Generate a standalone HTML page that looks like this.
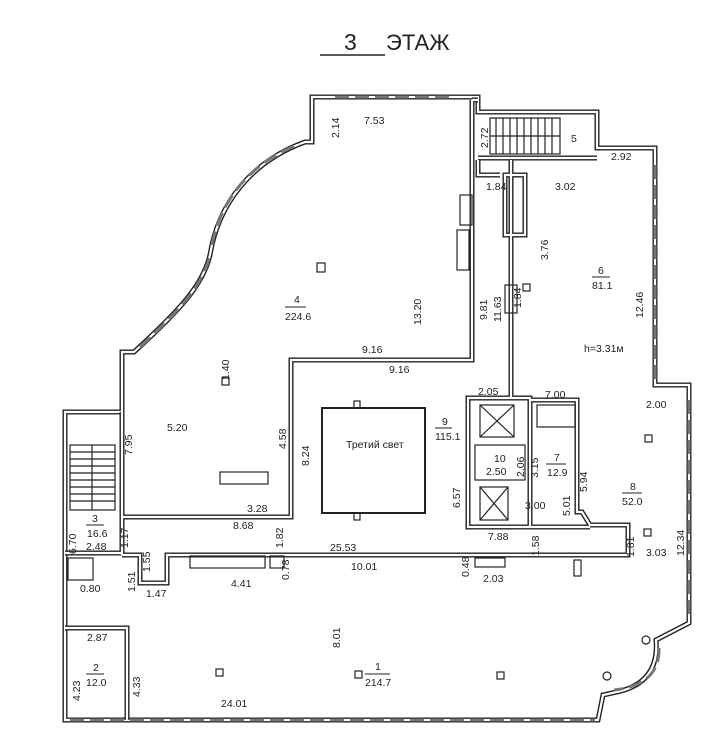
<!DOCTYPE html>
<html><head><meta charset="utf-8"><style>
body{margin:0;background:#fff;}
svg{display:block;}
text{font-family:"Liberation Sans",sans-serif;font-size:10.5px;fill:#222;}
.w{fill:none;stroke:#222;stroke-width:5;stroke-linejoin:miter;}
.wi{fill:none;stroke:#fff;stroke-width:2.2;stroke-linejoin:miter;}
.t{fill:none;stroke:#222;stroke-width:1.2;}
.win{fill:none;stroke:#777;stroke-width:3;stroke-dasharray:14 6;}
</style></head><body>
<svg width="718" height="743" viewBox="0 0 718 743" xmlns="http://www.w3.org/2000/svg">
<text x="344" y="50" style="font-size:23px">3</text>
<line x1="320" y1="55" x2="385" y2="55" stroke="#222" stroke-width="1.5"/>
<text x="386" y="50" style="font-size:22px">ЭТАЖ</text>

<defs>
<path id="outer" d="M312,97 L478,97 L478,112 L597,112 L597,148 L655,148 L655,385 L689,385 L689,623 L656,640 Q660,685 612,693 L603,695 L598,720 L65,720 L65,412 L122,412 L122,352 L134,352 C180,310 203,285 210,255 C218,205 250,162 305,142 L312,142 Z"/>
<path id="inner" d="M472,100 L472,360 L291,360 L291,517 L122,517 M122,412 L122,555 M65,553 L122,553 M122,555 L140,555 L140,583 L167,583 L167,555 L628,555 L628,525 L590,525 L582,512 L577,512 L577,400 L530,400 M468,398 L530,398 L530,527 L468,527 Z M468,527 L468,517 M530,527 L590,527 M65,628 L127,628 L127,720 M478,158 L597,158 M511,160 L511,398 M478,160 L478,175 L500,175 M525,175 L525,235 L505,235 L505,175 Z M472,100 L478,100"/>
</defs>
<use href="#outer" class="w"/><use href="#outer" class="wi"/>
<use href="#inner" class="w"/><use href="#inner" class="wi"/>

<path class="win" d="M335,97 L455,97 M655,165 L655,380 M689,400 L689,620 M70,720 L595,720 M140,347 C180,310 203,285 210,255 M212,245 C220,200 252,161 300,144 M659,648 Q660,685 614,690"/>

<g class="t">
<rect x="490" y="118" width="70" height="36"/>
<line x1="490" y1="136" x2="560" y2="136"/>
<path d="M496,118 v36 M503,118 v36 M510,118 v36 M517,118 v36 M524,118 v36 M531,118 v36 M538,118 v36 M545,118 v36 M552,118 v36"/>
<rect x="70" y="445" width="45" height="65"/>
<line x1="92" y1="445" x2="92" y2="510"/>
<path d="M70,452 h45 M70,459 h45 M70,466 h45 M70,473 h45 M70,480 h45 M70,487 h45 M70,494 h45 M70,501 h45"/>
<rect x="322" y="408" width="103" height="105" stroke-width="2"/>
<rect x="354" y="401" width="6" height="7"/><rect x="354" y="513" width="6" height="7"/>
<rect x="480" y="405" width="34" height="32"/><path d="M480,405 L514,437 M514,405 L480,437"/>
<rect x="480" y="487" width="28" height="33"/><path d="M480,487 L508,520 M508,487 L480,520"/>
<rect x="475" y="445" width="50" height="35"/>
<rect x="220" y="472" width="48" height="12"/>
<rect x="190" y="556" width="75" height="12"/><rect x="270" y="556" width="14" height="12"/>
<rect x="475" y="558" width="30" height="9"/><rect x="574" y="560" width="7" height="16"/>
<rect x="68" y="558" width="25" height="22"/>
<rect x="457" y="230" width="12" height="40"/><rect x="460" y="195" width="12" height="30"/>
<rect x="505" y="285" width="12" height="28"/>
<rect x="537" y="405" width="38" height="22"/>
</g>
<g fill="none" stroke="#222" stroke-width="1.2">
<rect x="317" y="263" width="8" height="9"/><rect x="222" y="378" width="7" height="7"/>
<rect x="523" y="284" width="7" height="7"/><rect x="645" y="435" width="7" height="7"/>
<rect x="644" y="529" width="7" height="7"/><rect x="216" y="669" width="7" height="7"/>
<rect x="355" y="671" width="7" height="7"/><rect x="497" y="672" width="7" height="7"/>
<circle cx="646" cy="640" r="4"/><circle cx="607" cy="676" r="4"/>
</g>

<g>
<text x="364" y="124">7.53</text>
<text transform="translate(339,138) rotate(-90)">2.14</text>
<text transform="translate(488,148) rotate(-90)">2.72</text>
<text x="571" y="142">5</text>
<text x="611" y="160">2.92</text>
<text x="486" y="190">1.84</text>
<text x="555" y="190">3.02</text>
<text transform="translate(548,260) rotate(-90)">3.76</text>
<text transform="translate(521,308) rotate(-90)">1.84</text>
<text x="598" y="274">6</text><line x1="592" y1="277" x2="610" y2="277" stroke="#222"/>
<text x="592" y="289">81.1</text>
<text transform="translate(643,318) rotate(-90)">12.46</text>
<text transform="translate(487,320) rotate(-90)">9.81</text>
<text transform="translate(501,322) rotate(-90)">11.63</text>
<text transform="translate(421,325) rotate(-90)">13.20</text>
<text x="294" y="303">4</text><line x1="285" y1="307" x2="306" y2="307" stroke="#222"/>
<text x="285" y="320">224.6</text>
<text x="362" y="353">9.16</text>
<text x="389" y="373">9.16</text>
<text x="584" y="352">h=3.31м</text>
<text transform="translate(229,380) rotate(-90)">1.40</text>
<text x="478" y="395">2.05</text>
<text x="545" y="398">7.00</text>
<text x="646" y="408">2.00</text>
<text x="167" y="431">5.20</text>
<text transform="translate(132,455) rotate(-90)">7.95</text>
<text transform="translate(286,449) rotate(-90)">4.58</text>
<text transform="translate(309,466) rotate(-90)">8.24</text>
<text x="346" y="448">Третий свет</text>
<text x="442" y="425">9</text><line x1="435" y1="428" x2="452" y2="428" stroke="#222"/>
<text x="435" y="440">115.1</text>
<text x="494" y="462">10</text>
<text x="486" y="475">2.50</text>
<text transform="translate(524,477) rotate(-90)">2.06</text>
<text transform="translate(538,478) rotate(-90)">3.15</text>
<text x="554" y="461">7</text><line x1="546" y1="464" x2="566" y2="464" stroke="#222"/>
<text x="547" y="476">12.9</text>
<text transform="translate(587,492) rotate(-90)">5.94</text>
<text x="630" y="490">8</text><line x1="622" y1="493" x2="642" y2="493" stroke="#222"/>
<text x="622" y="505">52.0</text>
<text transform="translate(460,508) rotate(-90)">6.57</text>
<text transform="translate(570,516) rotate(-90)">5.01</text>
<text x="525" y="509">3.00</text>
<text x="247" y="512">3.28</text>
<text x="233" y="529">8.68</text>
<text x="92" y="522">3</text><line x1="86" y1="525" x2="104" y2="525" stroke="#222"/>
<text x="87" y="537">16.6</text>
<text transform="translate(76,554) rotate(-90)">6.70</text>
<text x="86" y="550">2.48</text>
<text transform="translate(128,548) rotate(-90)">1.17</text>
<text transform="translate(283,548) rotate(-90)">1.82</text>
<text x="488" y="540">7.88</text>
<text transform="translate(539,556) rotate(-90)">1.58</text>
<text transform="translate(634,557) rotate(-90)">1.81</text>
<text x="646" y="556">3.03</text>
<text x="330" y="551">25.53</text>
<text transform="translate(684,556) rotate(-90)">12.34</text>
<text x="351" y="570">10.01</text>
<text transform="translate(469,577) rotate(-90)">0.48</text>
<text x="483" y="582">2.03</text>
<text transform="translate(150,572) rotate(-90)">1.55</text>
<text transform="translate(289,580) rotate(-90)">0.78</text>
<text transform="translate(135,592) rotate(-90)">1.51</text>
<text x="231" y="587">4.41</text>
<text x="146" y="597">1.47</text>
<text x="80" y="592">0.80</text>
<text x="375" y="670">1</text><line x1="365" y1="674" x2="390" y2="674" stroke="#222"/>
<text x="365" y="686">214.7</text>
<text transform="translate(340,648) rotate(-90)">8.01</text>
<text x="87" y="641">2.87</text>
<text x="93" y="671">2</text><line x1="86" y1="674" x2="104" y2="674" stroke="#222"/>
<text x="86" y="686">12.0</text>
<text transform="translate(80,701) rotate(-90)">4.23</text>
<text transform="translate(140,697) rotate(-90)">4.33</text>
<text x="221" y="707">24.01</text>
</g>
</svg>
</body></html>
